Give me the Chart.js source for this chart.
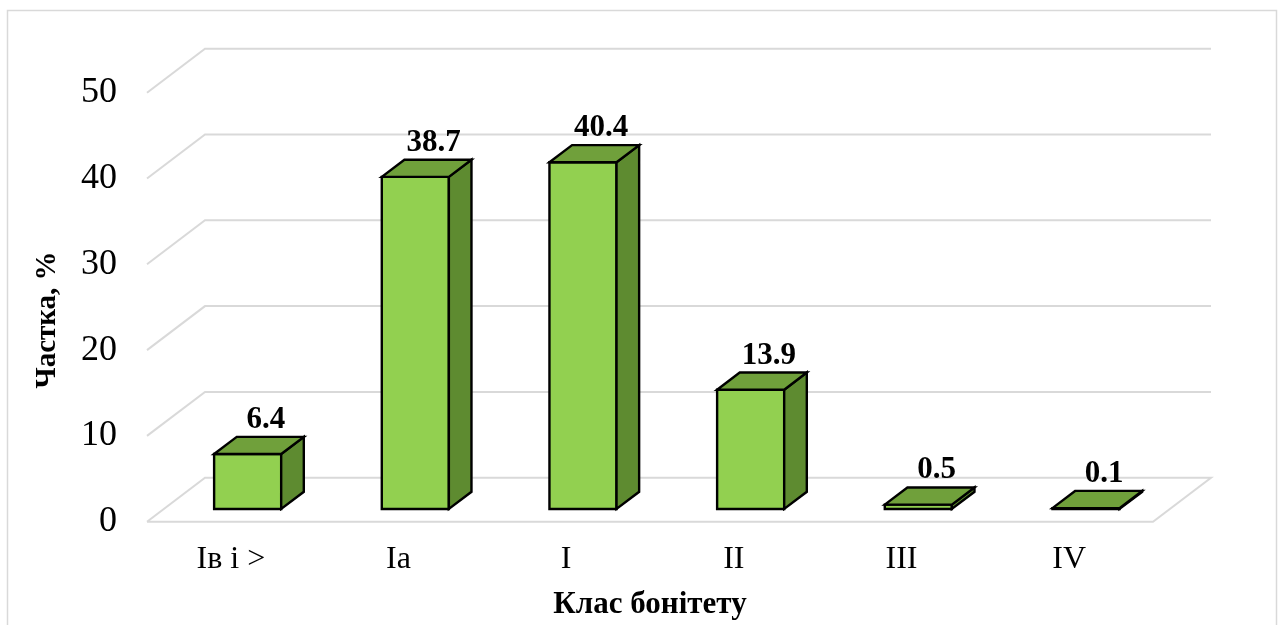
<!DOCTYPE html>
<html>
<head>
<meta charset="utf-8">
<script src="https://cdn.jsdelivr.net/npm/chart.js@4.4.0/dist/chart.umd.min.js"></script>
<style>
  html, body { margin: 0; padding: 0; background: #fff; overflow: hidden; }
  #wrap { width: 1282px; height: 625px; }
</style>
</head>
<body>
<div id="wrap"><canvas id="myChart"></canvas></div>
<script>
var categories = ["Ів і >", "Ia", "I", "II", "III", "IV"];
var shares = [6.4, 38.7, 40.4, 13.9, 0.5, 0.1];
var yTicks = [0, 10, 20, 30, 40, 50];
var yTitle = "Частка, %";

// 3d look: offset of the back wall, where bars sit inside the depth
var depthX = 58, depthY = -44;
var barFront = 0.29, barDepth = 0.39;
var serif = "'Liberation Serif', 'Times New Roman', serif";

var box3d = {
  id: "box3d",
  beforeDraw: function (chart) {
    var ctx = chart.ctx, a = chart.chartArea, ys = chart.scales.y;
    ctx.save();
    ctx.fillStyle = "#fff";
    ctx.fillRect(0, 0, chart.width, chart.height);
    ctx.strokeStyle = "#d9d9d9";
    ctx.lineWidth = 1.5;
    ctx.strokeRect(7.5, 10.5, 1269, 700);
    ctx.lineWidth = 2;
    yTicks.forEach(function (v) {
      var py = ys.getPixelForValue(v);
      ctx.beginPath();
      ctx.moveTo(a.left, py);
      ctx.lineTo(a.left + depthX, py + depthY);
      ctx.lineTo(a.right + depthX, py + depthY);
      if (v === 0) {
        ctx.lineTo(a.right, py);
        ctx.lineTo(a.left, py);
      }
      ctx.stroke();
    });
    // y axis title (Excel centres it a little lower than the plot)
    ctx.translate(48, 320);
    ctx.rotate(-Math.PI / 2);
    ctx.fillStyle = "#000";
    ctx.font = "bold 29px " + serif;
    ctx.textAlign = "center";
    ctx.textBaseline = "middle";
    ctx.fillText(yTitle, 0, 0);
    ctx.restore();
  },
  afterDatasetsDraw: function (chart) {
    var ctx = chart.ctx;
    var meta = chart.getDatasetMeta(0);
    var ox = depthX * barFront, oy = depthY * barFront;
    var dx = depthX * barDepth, dy = depthY * barDepth;
    ctx.save();
    ctx.lineWidth = 2.4;
    ctx.lineJoin = "miter";
    ctx.strokeStyle = "#000";
    meta.data.forEach(function (el, i) {
      var l = el.x - el.width / 2 + ox, r = el.x + el.width / 2 + ox;
      var t = el.y + oy, b = el.base + oy;
      // front
      ctx.beginPath();
      ctx.rect(l, t, r - l, b - t);
      ctx.fillStyle = "#92d050";
      ctx.fill();
      ctx.stroke();
      // side
      ctx.beginPath();
      ctx.moveTo(r, t);
      ctx.lineTo(r + dx, t + dy);
      ctx.lineTo(r + dx, b + dy);
      ctx.lineTo(r, b);
      ctx.closePath();
      ctx.fillStyle = "#5e8b30";
      ctx.fill();
      ctx.stroke();
      // top
      ctx.beginPath();
      ctx.moveTo(l, t);
      ctx.lineTo(l + dx, t + dy);
      ctx.lineTo(r + dx, t + dy);
      ctx.lineTo(r, t);
      ctx.closePath();
      ctx.fillStyle = "#70a03b";
      ctx.fill();
      ctx.stroke();
      // value label
      ctx.fillStyle = "#000";
      ctx.font = "bold 31px " + serif;
      ctx.textAlign = "center";
      ctx.textBaseline = "alphabetic";
      ctx.fillText(shares[i].toFixed(1), el.x + 35, t + dy - 9);
    });
    ctx.restore();
  }
};

function createChart() {
  var ctx = document.getElementById("myChart").getContext("2d");
  new Chart(ctx, {
    type: "bar",
    data: {
      labels: categories,
      datasets: [{
        data: shares,
        backgroundColor: "rgba(0,0,0,0)",
        borderWidth: 0,
        categoryPercentage: 1,
        barPercentage: 0.4
      }]
    },
    options: {
      responsive: true,
      maintainAspectRatio: false,
      devicePixelRatio: 1,
      animation: false,
      layout: { padding: { left: 0, right: 129, top: 92.7, bottom: 0 } },
      plugins: { legend: { display: false }, tooltip: { enabled: false } },
      scales: {
        x: {
          grid: { display: false, drawTicks: false },
          border: { display: false },
          ticks: { color: "#000", padding: 19, font: { family: serif, size: 32 } },
          title: {
            display: true,
            text: "Клас бонітету",
            color: "#000",
            padding: { top: 0, bottom: 1 },
            font: { family: serif, size: 31, weight: "bold" }
          },
          afterFit: function (scale) { scale.height = 103.3; }
        },
        y: {
          min: 0,
          max: 50,
          grid: { display: false, drawTicks: false },
          border: { display: false },
          ticks: { stepSize: 10, color: "#000", padding: 30, font: { family: serif, size: 36 } },
          afterFit: function (scale) { scale.width = 147; }
        }
      }
    },
    plugins: [box3d]
  });
}
createChart();
</script>
</body>
</html>
